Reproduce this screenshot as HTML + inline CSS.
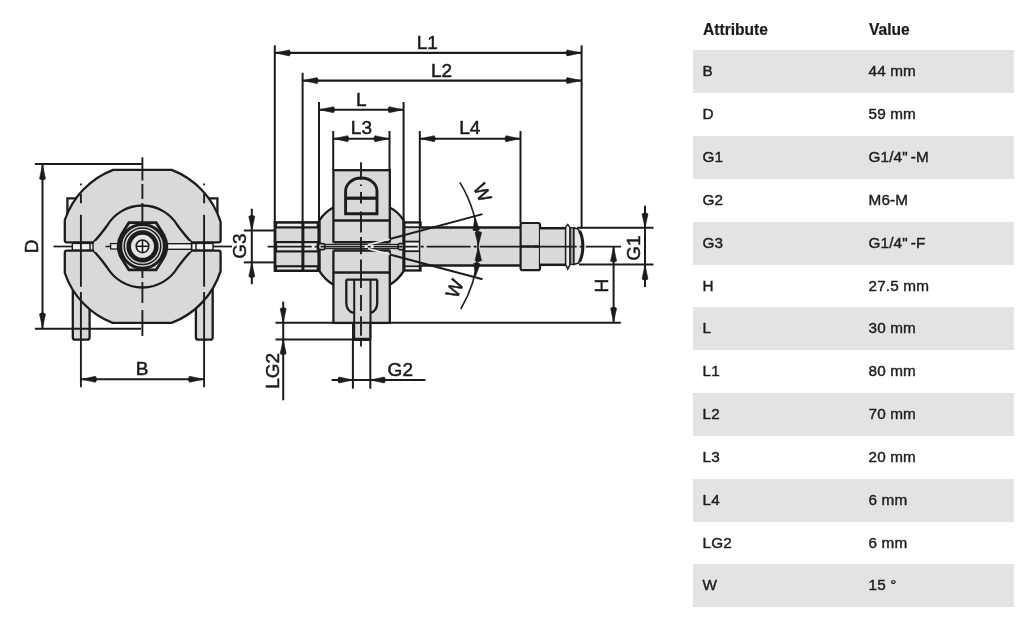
<!DOCTYPE html>
<html><head><meta charset="utf-8">
<style>
html,body{margin:0;padding:0;background:#fff;}
body{width:1024px;height:620px;position:relative;overflow:hidden;font-family:"Liberation Sans",sans-serif;-webkit-font-smoothing:antialiased;}
.r,.hd,svg{will-change:transform;}
svg{position:absolute;left:0;top:0;}
svg text{font-family:"Liberation Sans",sans-serif;fill:#1a1a1a;stroke:#1a1a1a;stroke-width:0.5px;}
.hd{position:absolute;top:0;height:50px;font-weight:bold;font-size:15.6px;color:#1a1a1a;line-height:60px;-webkit-text-stroke:0.2px #1a1a1a;}
.r{position:absolute;left:693px;width:321px;height:42.6px;font-size:15.3px;color:#1e1e1e;-webkit-text-stroke:0.42px #1e1e1e;}
.r.g{background:#e3e3e3;}
.r>span{position:absolute;top:-0.7px;line-height:43px;letter-spacing:0.15px;}
.a{left:9.5px;}
.v{left:175.5px;}
</style></head><body>
<svg width="1024" height="620" viewBox="0 0 1024 620">
<path d="M72.8,280 V337.2 Q72.8,339.7 75.3,339.7 H87.1 Q89.6,339.7 89.6,337.2 V280" fill="#d9d9d9" stroke="#1c1c1c" stroke-width="2.3"/>
<path d="M195.9,280 V337.2 Q195.9,339.7 198.4,339.7 H210.20000000000002 Q212.70000000000002,339.7 212.70000000000002,337.2 V280" fill="#d9d9d9" stroke="#1c1c1c" stroke-width="2.3"/>
<path d="M76,198.4 H67.4 V213" fill="none" stroke="#1c1c1c" stroke-width="2.3"/>
<path d="M208.8,198.4 H217.4 V213" fill="none" stroke="#1c1c1c" stroke-width="2.3"/>
<path d="M93.4,242.3 Q99.4,236.3 107.2,225.5 A41.0,41.0 0 0 1 177.60000000000002,225.5 Q185.6,236.3 191.6,242.3 V250.7 Q185.6,256.7 177.60000000000002,267.5 A41.0,41.0 0 0 1 107.2,267.5 Q99.4,256.7 93.4,250.7 Z" fill="#d9d9d9"/>
<path d="M64.8,240.3 Q64.8,242.3 66.8,242.3 H93.4 Q99.4,236.3 107.2,225.5 A41.0,41.0 0 0 1 177.60000000000002,225.5 Q185.6,236.3 191.6,242.3 H218.6 Q220.6,242.3 220.6,240.3 V221.83 A82.0,82.0 0 0 0 171.66,169.9 H113.14 A82.0,82.0 0 0 0 64.8,220.00 Z" fill="#d9d9d9" stroke="#1c1c1c" stroke-width="2.3"/>
<path d="M64.8,252.7 Q64.8,250.7 66.8,250.7 H93.4 Q99.4,256.7 107.2,267.5 A41.0,41.0 0 0 0 177.60000000000002,267.5 Q185.6,256.7 191.6,250.7 H218.6 Q220.6,250.7 220.6,252.7 V271.17 A82.0,82.0 0 0 1 171.66,322.9 H112.62 A82.0,82.0 0 0 1 64.8,273.00 Z" fill="#d9d9d9" stroke="#1c1c1c" stroke-width="2.3"/>
<rect x="94.4" y="241.3" width="96.19999999999999" height="10.399999999999977" fill="#d9d9d9"/>
<rect x="72.3" y="243.4" width="20.700000000000003" height="6.6" fill="#f2f2f2" stroke="#1c1c1c" stroke-width="1.4"/>
<rect x="191.6" y="243.4" width="21.400000000000006" height="6.6" fill="#f2f2f2" stroke="#1c1c1c" stroke-width="1.4"/>
<line x1="90" y1="243.4" x2="90" y2="250" stroke="#1c1c1c" stroke-width="1.50" />
<line x1="196" y1="243.4" x2="196" y2="250" stroke="#1c1c1c" stroke-width="1.50" />
<line x1="53.5" y1="246.5" x2="72.3" y2="246.5" stroke="#1c1c1c" stroke-width="1.75" />
<line x1="213" y1="246.5" x2="232" y2="246.5" stroke="#1c1c1c" stroke-width="1.75" />
<rect x="110.6" y="243.6" width="8" height="5.4" fill="#eee" stroke="#1c1c1c" stroke-width="1.3"/>
<line x1="105.5" y1="246.5" x2="110.6" y2="246.5" stroke="#1c1c1c" stroke-width="1.50" />
<rect x="166" y="243.7" width="25.5" height="5.6" fill="#f4f4f4" stroke="#1c1c1c" stroke-width="1.4"/>
<line x1="80.9" y1="183.5" x2="80.9" y2="185.3" stroke="#1c1c1c" stroke-width="1.88" />
<line x1="80.9" y1="194" x2="80.9" y2="203.3" stroke="#1c1c1c" stroke-width="1.88" />
<line x1="80.9" y1="214.8" x2="80.9" y2="286.7" stroke="#1c1c1c" stroke-width="1.88" />
<line x1="80.9" y1="292" x2="80.9" y2="387.2" stroke="#1c1c1c" stroke-width="1.88" />
<line x1="204.1" y1="183.5" x2="204.1" y2="185.3" stroke="#1c1c1c" stroke-width="1.88" />
<line x1="204.1" y1="194" x2="204.1" y2="203.3" stroke="#1c1c1c" stroke-width="1.88" />
<line x1="204.1" y1="214.8" x2="204.1" y2="286.7" stroke="#1c1c1c" stroke-width="1.88" />
<line x1="204.1" y1="292" x2="204.1" y2="387.2" stroke="#1c1c1c" stroke-width="1.88" />
<line x1="142.4" y1="157.3" x2="142.4" y2="180.5" stroke="#1c1c1c" stroke-width="1.88" />
<line x1="142.4" y1="184" x2="142.4" y2="199" stroke="#1c1c1c" stroke-width="1.88" />
<line x1="142.4" y1="203" x2="142.4" y2="278" stroke="#1c1c1c" stroke-width="1.88" />
<line x1="142.4" y1="282" x2="142.4" y2="303" stroke="#1c1c1c" stroke-width="1.88" />
<line x1="142.4" y1="310" x2="142.4" y2="336" stroke="#1c1c1c" stroke-width="1.88" />
<path d="M128.90,222.70 H156.10 L163.70,234.70 A24.2,24.2 0 0 1 163.70,257.90 L156.10,269.90 H128.90 L121.30,257.90 A24.2,24.2 0 0 1 121.30,234.70 Z" fill="#d9d9d9" stroke="#1c1c1c" stroke-width="2.8"/>
<circle cx="142.5" cy="246.3" r="21.9" fill="#d9d9d9" stroke="#1c1c1c" stroke-width="3.0"/>
<circle cx="142.5" cy="246.3" r="18.3" fill="none" stroke="#1c1c1c" stroke-width="1.5"/>
<circle cx="142.5" cy="246.3" r="13.8" fill="#e4e4e4" stroke="#1c1c1c" stroke-width="4.6"/>
<circle cx="142.5" cy="246.3" r="6.3" fill="#fff" stroke="#1c1c1c" stroke-width="1.6"/>
<line x1="136.5" y1="246.3" x2="148.5" y2="246.3" stroke="#1c1c1c" stroke-width="1.62" />
<line x1="142.5" y1="240.3" x2="142.5" y2="252.3" stroke="#1c1c1c" stroke-width="1.62" />
<line x1="34.9" y1="164.0" x2="142" y2="164.0" stroke="#1c1c1c" stroke-width="2.00" />
<line x1="34.9" y1="328.8" x2="141" y2="328.8" stroke="#1c1c1c" stroke-width="2.00" />
<line x1="42.5" y1="164" x2="42.5" y2="328.8" stroke="#1c1c1c" stroke-width="2.00" />
<path d="M42.50,164.80 L45.50,178.80 Q42.50,181.30 39.50,178.80 Z" fill="#1c1c1c" stroke="#1c1c1c" stroke-width="0.6"/>
<path d="M42.50,328.00 L39.50,314.00 Q42.50,311.50 45.50,314.00 Z" fill="#1c1c1c" stroke="#1c1c1c" stroke-width="0.6"/>
<line x1="80.9" y1="379.3" x2="204.1" y2="379.3" stroke="#1c1c1c" stroke-width="2.00" />
<path d="M81.50,379.30 L95.50,376.30 Q98.00,379.30 95.50,382.30 Z" fill="#1c1c1c" stroke="#1c1c1c" stroke-width="0.6"/>
<path d="M203.50,379.30 L189.50,382.30 Q187.00,379.30 189.50,376.30 Z" fill="#1c1c1c" stroke="#1c1c1c" stroke-width="0.6"/>
<text x="142.2" y="375.4" font-size="19" text-anchor="middle">B</text>
<text transform="translate(38.2,246.4) rotate(-90)" font-size="19" text-anchor="middle">D</text>
<path d="M333.4,207.6 Q324.6,212.2 319.5,220.4 V271.2 Q324.6,279.6 333.4,284.8 H389.8 Q398.6,279.6 403.6,271.2 V220.4 Q398.6,212.2 389.8,207.6 Z" fill="#d9d9d9" stroke="#1c1c1c" stroke-width="2.3"/>
<rect x="275" y="222.6" width="43.8" height="48" fill="#d9d9d9" stroke="#1c1c1c" stroke-width="2.8"/>
<rect x="276" y="222.6" width="41.8" height="4.800000000000011" fill="#f0f0f0" stroke="#1c1c1c" stroke-width="2.2"/>
<rect x="276" y="242.1" width="41.8" height="9.300000000000011" fill="#e6e6e6" stroke="#1c1c1c" stroke-width="2.2"/>
<rect x="276" y="266.3" width="41.8" height="4.300000000000011" fill="#f0f0f0" stroke="#1c1c1c" stroke-width="2.2"/>
<line x1="302.9" y1="222.6" x2="302.9" y2="270.6" stroke="#1c1c1c" stroke-width="3.00" />
<rect x="404" y="222.7" width="16.3" height="47.5" fill="#d9d9d9" stroke="#1c1c1c" stroke-width="2.8"/>
<rect x="404.6" y="222.7" width="15.1" height="4.5" fill="#f4f4f4" stroke="#1c1c1c" stroke-width="1.8"/>
<rect x="404.6" y="241.6" width="15.1" height="9.599999999999994" fill="#f4f4f4" stroke="#1c1c1c" stroke-width="1.8"/>
<rect x="404.6" y="266.3" width="15.1" height="3.8999999999999773" fill="#f4f4f4" stroke="#1c1c1c" stroke-width="1.8"/>
<rect x="333.4" y="170.2" width="56.4" height="152.7" fill="#d9d9d9" stroke="#1c1c1c" stroke-width="2.3"/>
<line x1="333.4" y1="220.5" x2="389.8" y2="220.5" stroke="#1c1c1c" stroke-width="2.50" />
<rect x="332.4" y="242.2" width="58.4" height="8.4" fill="#d9d9d9"/>
<line x1="333.4" y1="242.2" x2="389.8" y2="242.2" stroke="#1c1c1c" stroke-width="2.50" />
<line x1="333.4" y1="250.6" x2="389.8" y2="250.6" stroke="#1c1c1c" stroke-width="2.50" />
<line x1="333.4" y1="272.4" x2="389.8" y2="272.4" stroke="#1c1c1c" stroke-width="2.50" />
<rect x="321" y="244.4" width="78" height="4.2" fill="#ececec" stroke="#1c1c1c" stroke-width="1.1"/>
<rect x="318.5" y="243.6" width="6.5" height="6" rx="2" fill="#d9d9d9" stroke="#1c1c1c" stroke-width="1.6"/>
<rect x="398" y="243.6" width="6" height="6" rx="2" fill="#d9d9d9" stroke="#1c1c1c" stroke-width="1.6"/>
<path d="M345.6,213.8 V191 A15.7,13 0 0 1 377,191 V213.8 Z" fill="#d9d9d9" stroke="#1c1c1c" stroke-width="2.9"/>
<line x1="345.6" y1="198.2" x2="377" y2="198.2" stroke="#1c1c1c" stroke-width="3.25" />
<path d="M346.3,279.6 V303 Q346.3,311 353.8,313 M377.2,279.6 V303 Q377.2,311 370.2,313 M346.3,279.6 H377.2" fill="none" stroke="#1c1c1c" stroke-width="2.3"/>
<rect x="352.9" y="322.9" width="17.4" height="16.6" fill="#d9d9d9" stroke="#1c1c1c" stroke-width="1.8"/>
<line x1="354.2" y1="279.6" x2="354.2" y2="339.4" stroke="#1c1c1c" stroke-width="2.00" />
<line x1="370.5" y1="279.6" x2="370.5" y2="339.4" stroke="#1c1c1c" stroke-width="2.00" />
<line x1="352.9" y1="339.4" x2="370.3" y2="339.4" stroke="#1c1c1c" stroke-width="3.25" />
<line x1="361" y1="162.3" x2="361" y2="179.5" stroke="#1c1c1c" stroke-width="1.88" />
<line x1="361" y1="184.5" x2="361" y2="186" stroke="#1c1c1c" stroke-width="1.88" />
<line x1="361" y1="192" x2="361" y2="203.4" stroke="#1c1c1c" stroke-width="1.88" />
<line x1="361" y1="211.5" x2="361" y2="232.4" stroke="#1c1c1c" stroke-width="1.88" />
<line x1="361" y1="237" x2="361" y2="254.2" stroke="#1c1c1c" stroke-width="1.88" />
<line x1="361" y1="259.5" x2="361" y2="288" stroke="#1c1c1c" stroke-width="1.88" />
<line x1="361" y1="295" x2="361" y2="311" stroke="#1c1c1c" stroke-width="1.88" />
<line x1="361" y1="316.3" x2="361" y2="335.8" stroke="#1c1c1c" stroke-width="1.88" />
<line x1="361" y1="341" x2="361" y2="346.5" stroke="#1c1c1c" stroke-width="1.88" />
<rect x="420.3" y="227.6" width="99.5" height="38" fill="#d9d9d9"/>
<line x1="420.3" y1="227.6" x2="520" y2="227.6" stroke="#1c1c1c" stroke-width="2.50" />
<line x1="420.3" y1="265.6" x2="520" y2="265.6" stroke="#1c1c1c" stroke-width="2.50" />
<rect x="520.6" y="223" width="19.4" height="47.2" rx="2" fill="#d9d9d9" stroke="#1c1c1c" stroke-width="2.2"/>
<line x1="520.6" y1="246.5" x2="540" y2="246.5" stroke="#1c1c1c" stroke-width="2.50" />
<rect x="540" y="228.4" width="27" height="36.6" fill="#d9d9d9"/>
<line x1="540" y1="228.2" x2="566" y2="228.2" stroke="#1c1c1c" stroke-width="2.50" />
<line x1="540" y1="264.8" x2="566" y2="264.8" stroke="#1c1c1c" stroke-width="2.50" />
<path d="M565.6,227.4 L567.8,224.4 L570,227.4 V264.6 L567.8,269 L565.6,264.6 Z" fill="#ececec" stroke="#1c1c1c" stroke-width="1.5"/>
<rect x="570.2" y="227.8" width="3.7" height="36.6" fill="#9a9a9a" stroke="#1c1c1c" stroke-width="1.3"/>
<path d="M573.9,227.8 L578.5,229.3 Q582.6,236 582.6,246.3 Q582.6,256.6 578.5,263 L573.9,264.4 Z" fill="#e6e6e6" stroke="#1c1c1c" stroke-width="1.5"/>
<path d="M579.6,231 Q582.9,237 582.9,246.3 Q582.9,255.6 579.6,261.6" fill="none" stroke="#1c1c1c" stroke-width="3"/>
<line x1="267.7" y1="246.5" x2="621" y2="246.5" stroke="#1c1c1c" stroke-width="1.75" stroke-dasharray="44 3 3 3"/>
<line x1="368" y1="244.82435565298212" x2="389.8" y2="238.98306325798364" stroke="#e9e9e9" stroke-width="1.75" />
<line x1="368" y1="248.57564434701786" x2="389.8" y2="254.41693674201633" stroke="#e9e9e9" stroke-width="1.75" />
<line x1="389.8" y1="238.98306325798364" x2="482.5" y2="214.14417311961859" stroke="#1c1c1c" stroke-width="2.00" />
<line x1="389.8" y1="254.41693674201633" x2="482.5" y2="279.2558268803814" stroke="#1c1c1c" stroke-width="2.00" />
<path d="M459.80,182.39 A122.0,122.0 0 0 1 460.79,308.97" fill="none" stroke="#1c1c1c" stroke-width="1.6"/>
<path d="M474.90,217.30 L479.45,229.49 Q476.48,232.32 472.98,230.17 Z" fill="#1c1c1c" stroke="#1c1c1c" stroke-width="0.6"/>
<path d="M478.30,245.60 L475.05,232.60 Q478.30,230.10 481.55,232.60 Z" fill="#1c1c1c" stroke="#1c1c1c" stroke-width="0.6"/>
<path d="M478.30,247.40 L481.55,260.40 Q478.30,262.90 475.05,260.40 Z" fill="#1c1c1c" stroke="#1c1c1c" stroke-width="0.6"/>
<path d="M475.60,276.30 L473.68,263.43 Q477.18,261.28 480.15,264.11 Z" fill="#1c1c1c" stroke="#1c1c1c" stroke-width="0.6"/>
<line x1="274.8" y1="45.3" x2="274.8" y2="222.6" stroke="#1c1c1c" stroke-width="2.00" />
<line x1="581.6" y1="45.3" x2="581.6" y2="228.4" stroke="#1c1c1c" stroke-width="2.00" />
<line x1="274.8" y1="52.9" x2="581.6" y2="52.9" stroke="#1c1c1c" stroke-width="2.12" />
<path d="M275.30,52.90 L289.30,49.90 Q291.80,52.90 289.30,55.90 Z" fill="#1c1c1c" stroke="#1c1c1c" stroke-width="0.6"/>
<path d="M581.10,52.90 L567.10,55.90 Q564.60,52.90 567.10,49.90 Z" fill="#1c1c1c" stroke="#1c1c1c" stroke-width="0.6"/>
<text x="427.2" y="49" font-size="19" text-anchor="middle">L1</text>
<line x1="302.6" y1="72.8" x2="302.6" y2="222.6" stroke="#1c1c1c" stroke-width="2.00" />
<line x1="302.6" y1="80.6" x2="581.6" y2="80.6" stroke="#1c1c1c" stroke-width="2.12" />
<path d="M303.10,80.60 L317.10,77.60 Q319.60,80.60 317.10,83.60 Z" fill="#1c1c1c" stroke="#1c1c1c" stroke-width="0.6"/>
<path d="M581.10,80.60 L567.10,83.60 Q564.60,80.60 567.10,77.60 Z" fill="#1c1c1c" stroke="#1c1c1c" stroke-width="0.6"/>
<text x="441.5" y="76.9" font-size="19" text-anchor="middle">L2</text>
<line x1="319" y1="102" x2="319" y2="222" stroke="#1c1c1c" stroke-width="2.00" />
<line x1="403.6" y1="102" x2="403.6" y2="221.5" stroke="#1c1c1c" stroke-width="2.00" />
<line x1="319" y1="109.7" x2="403.6" y2="109.7" stroke="#1c1c1c" stroke-width="2.12" />
<path d="M319.50,109.70 L333.50,106.70 Q336.00,109.70 333.50,112.70 Z" fill="#1c1c1c" stroke="#1c1c1c" stroke-width="0.6"/>
<path d="M403.10,109.70 L389.10,112.70 Q386.60,109.70 389.10,106.70 Z" fill="#1c1c1c" stroke="#1c1c1c" stroke-width="0.6"/>
<text x="361.4" y="105.9" font-size="19" text-anchor="middle">L</text>
<line x1="333.2" y1="131" x2="333.2" y2="170.2" stroke="#1c1c1c" stroke-width="2.00" />
<line x1="389.5" y1="131" x2="389.5" y2="170.2" stroke="#1c1c1c" stroke-width="2.00" />
<line x1="333.2" y1="138.7" x2="389.5" y2="138.7" stroke="#1c1c1c" stroke-width="2.12" />
<path d="M333.70,138.70 L347.70,135.70 Q350.20,138.70 347.70,141.70 Z" fill="#1c1c1c" stroke="#1c1c1c" stroke-width="0.6"/>
<path d="M389.00,138.70 L375.00,141.70 Q372.50,138.70 375.00,135.70 Z" fill="#1c1c1c" stroke="#1c1c1c" stroke-width="0.6"/>
<text x="361.4" y="134.4" font-size="19" text-anchor="middle">L3</text>
<line x1="419.8" y1="131" x2="419.8" y2="222.7" stroke="#1c1c1c" stroke-width="2.00" />
<line x1="520.5" y1="131" x2="520.5" y2="223" stroke="#1c1c1c" stroke-width="2.00" />
<line x1="419.8" y1="138.7" x2="520.5" y2="138.7" stroke="#1c1c1c" stroke-width="2.12" />
<path d="M420.30,138.70 L434.30,135.70 Q436.80,138.70 434.30,141.70 Z" fill="#1c1c1c" stroke="#1c1c1c" stroke-width="0.6"/>
<path d="M520.00,138.70 L506.00,141.70 Q503.50,138.70 506.00,135.70 Z" fill="#1c1c1c" stroke="#1c1c1c" stroke-width="0.6"/>
<text x="469.8" y="134.4" font-size="19" text-anchor="middle">L4</text>
<line x1="243.8" y1="230.5" x2="275" y2="230.5" stroke="#1c1c1c" stroke-width="2.00" />
<line x1="243.8" y1="262.4" x2="275" y2="262.4" stroke="#1c1c1c" stroke-width="2.00" />
<line x1="251.8" y1="208.7" x2="251.8" y2="284.2" stroke="#1c1c1c" stroke-width="2.00" />
<path d="M251.80,230.50 L248.80,216.50 Q251.80,214.00 254.80,216.50 Z" fill="#1c1c1c" stroke="#1c1c1c" stroke-width="0.6"/>
<path d="M251.80,262.40 L254.80,276.40 Q251.80,278.90 248.80,276.40 Z" fill="#1c1c1c" stroke="#1c1c1c" stroke-width="0.6"/>
<text transform="translate(246.0,246.1) rotate(-90)" font-size="19" text-anchor="middle">G3</text>
<line x1="577" y1="227.8" x2="653.5" y2="227.8" stroke="#1c1c1c" stroke-width="2.00" />
<line x1="579" y1="264.6" x2="653.5" y2="264.6" stroke="#1c1c1c" stroke-width="2.00" />
<line x1="645" y1="205.7" x2="645" y2="286.9" stroke="#1c1c1c" stroke-width="2.00" />
<path d="M645.00,228.00 L642.00,214.00 Q645.00,211.50 648.00,214.00 Z" fill="#1c1c1c" stroke="#1c1c1c" stroke-width="0.6"/>
<path d="M645.00,265.00 L648.00,279.00 Q645.00,281.50 642.00,279.00 Z" fill="#1c1c1c" stroke="#1c1c1c" stroke-width="0.6"/>
<text transform="translate(640.2,248.1) rotate(-90)" font-size="19" text-anchor="middle">G1</text>
<line x1="389.8" y1="322.8" x2="620.8" y2="322.8" stroke="#1c1c1c" stroke-width="2.00" />
<line x1="613.6" y1="246.5" x2="613.6" y2="322.8" stroke="#1c1c1c" stroke-width="2.00" />
<path d="M613.60,247.00 L616.60,261.00 Q613.60,263.50 610.60,261.00 Z" fill="#1c1c1c" stroke="#1c1c1c" stroke-width="0.6"/>
<path d="M613.60,322.30 L610.60,308.30 Q613.60,305.80 616.60,308.30 Z" fill="#1c1c1c" stroke="#1c1c1c" stroke-width="0.6"/>
<text transform="translate(608.3,285.7) rotate(-90)" font-size="19" text-anchor="middle">H</text>
<line x1="275.5" y1="322.8" x2="333.4" y2="322.8" stroke="#1c1c1c" stroke-width="2.00" />
<line x1="275.5" y1="339.6" x2="352.9" y2="339.6" stroke="#1c1c1c" stroke-width="2.00" />
<line x1="283.2" y1="301.6" x2="283.2" y2="400.3" stroke="#1c1c1c" stroke-width="2.00" />
<path d="M283.20,322.80 L280.20,308.80 Q283.20,306.30 286.20,308.80 Z" fill="#1c1c1c" stroke="#1c1c1c" stroke-width="0.6"/>
<path d="M283.20,339.60 L286.20,353.60 Q283.20,356.10 280.20,353.60 Z" fill="#1c1c1c" stroke="#1c1c1c" stroke-width="0.6"/>
<text transform="translate(279.4,370.8) rotate(-90)" font-size="19" text-anchor="middle">LG2</text>
<line x1="352.9" y1="339.4" x2="352.9" y2="388.7" stroke="#1c1c1c" stroke-width="2.00" />
<line x1="370.3" y1="339.4" x2="370.3" y2="388.7" stroke="#1c1c1c" stroke-width="2.00" />
<line x1="331.6" y1="380" x2="425.5" y2="380" stroke="#1c1c1c" stroke-width="2.00" />
<path d="M352.90,380.00 L338.90,383.00 Q336.40,380.00 338.90,377.00 Z" fill="#1c1c1c" stroke="#1c1c1c" stroke-width="0.6"/>
<path d="M370.30,380.00 L384.30,377.00 Q386.80,380.00 384.30,383.00 Z" fill="#1c1c1c" stroke="#1c1c1c" stroke-width="0.6"/>
<text x="400.3" y="375.7" font-size="19" text-anchor="middle">G2</text>
<text transform="translate(476.5,195.3) rotate(65)" font-size="19" text-anchor="middle">W</text>
<text transform="translate(460.7,291.3) rotate(-66)" font-size="19" text-anchor="middle">W</text>
</svg>
<div class="hd" style="left:702.5px">Attribute</div>
<div class="hd" style="left:868.5px">Value</div>
<div class="r g" style="top:50.30px"><span class="a">B</span><span class="v">44 mm</span></div>
<div class="r" style="top:93.14px"><span class="a">D</span><span class="v">59 mm</span></div>
<div class="r g" style="top:135.98px"><span class="a">G1</span><span class="v">G1/4"<span style="margin-left:3px">-M</span></span></div>
<div class="r" style="top:178.82px"><span class="a">G2</span><span class="v">M6-M</span></div>
<div class="r g" style="top:221.66px"><span class="a">G3</span><span class="v">G1/4"<span style="margin-left:3px">-F</span></span></div>
<div class="r" style="top:264.50px"><span class="a">H</span><span class="v">27.5 mm</span></div>
<div class="r g" style="top:307.34px"><span class="a">L</span><span class="v">30 mm</span></div>
<div class="r" style="top:350.18px"><span class="a">L1</span><span class="v">80 mm</span></div>
<div class="r g" style="top:393.02px"><span class="a">L2</span><span class="v">70 mm</span></div>
<div class="r" style="top:435.86px"><span class="a">L3</span><span class="v">20 mm</span></div>
<div class="r g" style="top:478.70px"><span class="a">L4</span><span class="v">6 mm</span></div>
<div class="r" style="top:521.54px"><span class="a">LG2</span><span class="v">6 mm</span></div>
<div class="r g" style="top:564.38px"><span class="a">W</span><span class="v">15 °</span></div>

</body></html>
